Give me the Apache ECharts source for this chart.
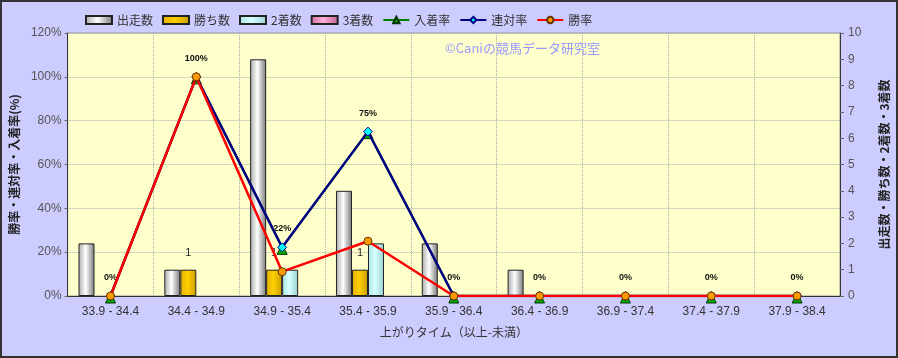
<!DOCTYPE html>
<html><head><meta charset="utf-8">
<script src="https://cdn.jsdelivr.net/npm/echarts@6/dist/echarts.min.js"></script>
<style>html,body{margin:0;padding:0;background:#CCCCFF;}#c{width:898px;height:358px;}</style>
</head><body><div id="c"></div>
<script>
const categories = ['33.9 - 34.4','34.4 - 34.9','34.9 - 35.4','35.4 - 35.9','35.9 - 36.4','36.4 - 36.9','36.9 - 37.4','37.4 - 37.9','37.9 - 38.4'];
const runs   = [2, 1, 9, 4, 2, 1, 0, 0, 0];
const wins   = [0, 1, 1, 1, 0, 0, 0, 0, 0];
const second = [0, 0, 1, 2, 0, 0, 0, 0, 0];
const third  = [0, 0, 0, 0, 0, 0, 0, 0, 0];
const placeRate = [0, 100, 22.2, 75, 0, 0, 0, 0, 0];
const quinellaRate = [0, 100, 22.2, 75, 0, 0, 0, 0, 0];
const winRate = [0, 100, 11.1, 25, 0, 0, 0, 0, 0];

const nz = a => a.map(v => v === 0 ? null : v);
const hGrad = (l, m, r) => new echarts.graphic.LinearGradient(0,0,1,0,[{offset:0,color:l},{offset:0.45,color:m},{offset:1,color:r}]);
const font = '"Liberation Sans", Arial, sans-serif';
const cjk = '"Noto Sans CJK JP", "Liberation Sans", sans-serif';

const chart = echarts.init(document.getElementById('c'), null, {renderer:'canvas'});
const barBase = {type:'bar', yAxisIndex:1, barWidth:16, barGap:'0%', z:2};
chart.setOption({
  animation:false,
  backgroundColor:'#CCCCFF',
  textStyle:{fontFamily:cjk},
  legend:{left:80, top:9, itemWidth:26, itemHeight:8, itemGap:9,
    textStyle:{fontSize:12, color:'#333', fontFamily:cjk},
    data:[{name:'出走数',icon:'rect'},{name:'勝ち数',icon:'rect'},{name:'2着数',icon:'rect'},{name:'3着数',icon:'rect'},'入着率','連対率','勝率']},
  grid:{left:65, right:53, top:33, bottom:62, show:true, backgroundColor:'#FFFFCC', borderColor:'#999', borderWidth:1},
  graphic:[
    {type:'text', left:445, top:42, z:1, style:{text:'©Caniの競馬データ研究室', fill:'#9999FF', font:'13px '+cjk}},
    {type:'rect', shape:{x:1, y:1, width:896, height:356}, style:{fill:'none', stroke:'#333', lineWidth:2}, silent:true, z:100}
  ],
  xAxis:{type:'category', data:categories,
    axisLine:{lineStyle:{color:'#333'}}, axisTick:{show:false},
    axisLabel:{color:'#333', fontSize:12, fontFamily:font, margin:10},
    splitLine:{show:true, lineStyle:{color:'#aaa', type:[1,1]}},
    name:'上がりタイム（以上-未満）', nameLocation:'middle', nameGap:30,
    nameTextStyle:{color:'#333', fontSize:12, fontFamily:cjk}},
  yAxis:[
    {type:'value', min:0, max:120, interval:20, position:'left',
     axisLine:{show:true, lineStyle:{color:'#333'}}, axisTick:{show:true, length:3, lineStyle:{color:'#666'}},
     axisLabel:{formatter:'{value}%', color:'#555', fontSize:12, fontFamily:font, margin:6},
     splitLine:{show:true, lineStyle:{color:'#aaa', type:[1,1]}},
     name:'勝率・連対率・入着率(%)', nameLocation:'middle', nameGap:45, nameRotate:90,
     nameTextStyle:{color:'#222', fontSize:12, fontWeight:'bold', fontFamily:cjk}},
    {type:'value', min:0, max:10, interval:1, position:'right',
     axisLine:{show:true, lineStyle:{color:'#333'}}, axisTick:{show:true, length:4, lineStyle:{color:'#666'}},
     axisLabel:{color:'#555', fontSize:12, fontFamily:font, margin:8},
     splitLine:{show:false},
     name:'出走数・勝ち数・2着数・3着数', nameLocation:'middle', nameGap:38, nameRotate:90,
     nameTextStyle:{color:'#222', fontSize:12, fontWeight:'bold', fontFamily:cjk}}
  ],
  series:[
    Object.assign({}, barBase, {name:'出走数', data:nz(runs),
      itemStyle:{color:hGrad('#aaaaaa','#ffffff','#777777'), borderColor:'#222', borderWidth:1}}),
    Object.assign({}, barBase, {name:'勝ち数', data:nz(wins),
      itemStyle:{color:hGrad('#e0b000','#ffd000','#c89c00'), borderColor:'#222', borderWidth:1},
      label:{show:true, position:'top', distance:11, color:'#222', fontSize:11, fontFamily:font}}),
    Object.assign({}, barBase, {name:'2着数', data:nz(second),
      itemStyle:{color:hGrad('#a8e4e4','#d8ffff','#98d0d0'), borderColor:'#222', borderWidth:1}}),
    Object.assign({}, barBase, {name:'3着数', data:nz(third),
      itemStyle:{color:hGrad('#d070a0','#ffb0d8','#c06090'), borderColor:'#222', borderWidth:1}}),
    {name:'入着率', type:'line', yAxisIndex:0, data:placeRate, z:3,
     lineStyle:{color:'#008000', width:2}, symbol:'triangle', symbolSize:10, symbolOffset:[0,2],
     itemStyle:{color:'#00aa00', borderColor:'#003300', borderWidth:1}},
    {name:'連対率', type:'line', yAxisIndex:0, data:quinellaRate, z:4,
     lineStyle:{color:'#000080', width:2.5}, symbol:'diamond', symbolSize:9,
     itemStyle:{color:'#00ffff', borderColor:'#000080', borderWidth:1},
     label:{show:true, position:'top', distance:9, color:'#111', fontSize:9, fontWeight:'bold', fontFamily:font,
       formatter:p => Math.round(p.value) + '%'}},
    {name:'勝率', type:'line', yAxisIndex:0, data:winRate, z:5,
     lineStyle:{color:'#ff0000', width:2.5}, symbol:'circle', symbolSize:8,
     itemStyle:{color:'#ff9900', borderColor:'#663300', borderWidth:1}}
  ]
});
</script></body></html>
